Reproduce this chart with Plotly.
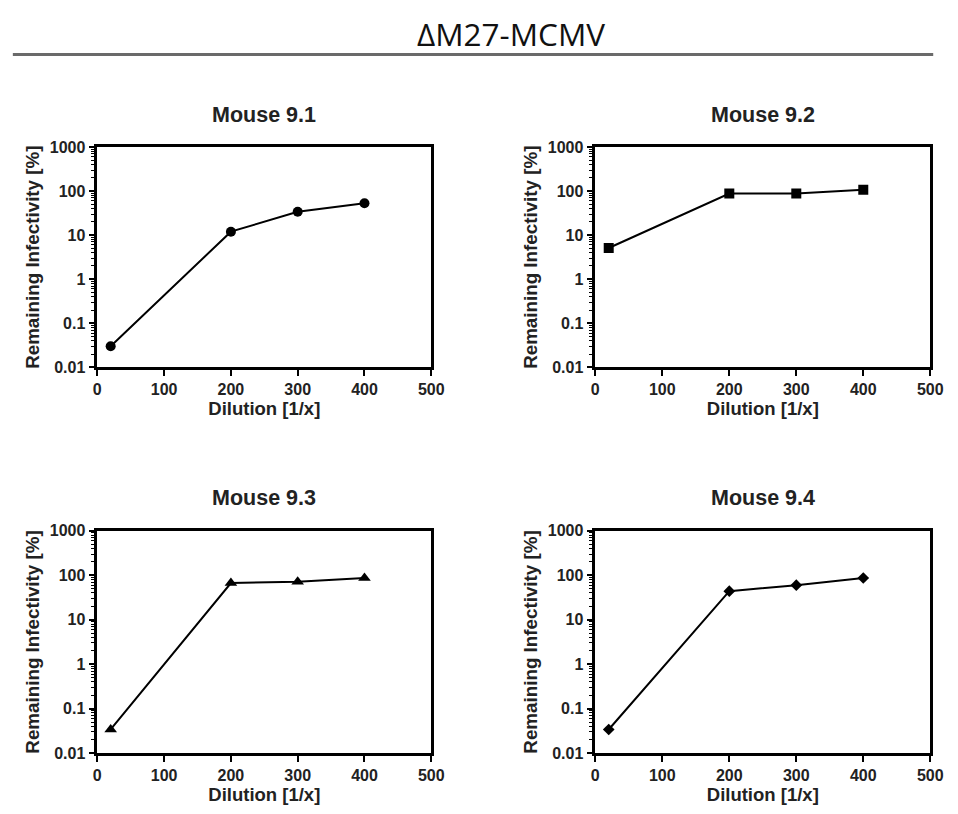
import plotly.graph_objects as go

dilution = [20, 200, 300, 400]
mouse_9_1 = [0.03, 12, 34, 53]
mouse_9_2 = [5.1, 88, 88, 107]
mouse_9_3 = [0.034, 67, 72, 87]
mouse_9_4 = [0.034, 44, 60, 87]

panel_titles = ["Mouse 9.1", "Mouse 9.2", "Mouse 9.3", "Mouse 9.4"]
series = [mouse_9_1, mouse_9_2, mouse_9_3, mouse_9_4]
symbols = ["circle", "square", "triangle-up", "diamond"]
x_ticks = [0, 100, 200, 300, 400, 500]
y_ticks = [0.01, 0.1, 1, 10, 100, 1000]
y_ticklabels = ["0.01", "0.1", "1", "10", "100", "1000"]

W, H = 958, 814


def px(x):
    return x / W


def py(y):
    return 1 - y / H


cols = [(95, 435), (602, 943)]
rows = [(142, 367), (534, 761)]
title_y = [109, 500]
marker_sizes = {"circle": 10, "square": 10, "triangle-up": 11, "diamond": 9}

fig = go.Figure()
font_family = "Liberation Sans, Arial, sans-serif"

for i in range(4):
    r, c = divmod(i, 2)
    ax = "" if i == 0 else str(i + 1)
    fig.add_trace(go.Scatter(
        x=dilution, y=series[i], mode="lines+markers",
        line=dict(color="black", width=2),
        marker=dict(symbol=symbols[i], size=marker_sizes[symbols[i]], color="black"),
        xaxis="x" + ax, yaxis="y" + ax, showlegend=False,
    ))
    x0, x1 = cols[c]
    ytop, ybot = rows[r]
    fig.layout["xaxis" + ax] = dict(
        domain=[px(x0), px(x1)], anchor="y" + ax, range=[0, 500],
        tickvals=x_ticks, ticks="outside", ticklen=6, tickwidth=2, tickcolor="black",
        showline=True, linecolor="black", linewidth=2.5, mirror=True,
        showgrid=False, zeroline=False,
        tickfont=dict(family=font_family, size=16, color="#222", weight="bold"),
        title=dict(text="Dilution [1/x]", standoff=3,
                   font=dict(family=font_family, size=18.5, color="#222", weight="bold")),
    )
    fig.layout["yaxis" + ax] = dict(
        domain=[py(ybot), py(ytop)], anchor="x" + ax, type="log", range=[-2, 3],
        tickvals=y_ticks, ticktext=y_ticklabels,
        ticks="outside", ticklen=6, tickwidth=2, tickcolor="black",
        minor=dict(ticks="outside", ticklen=4, tickwidth=1, tickcolor="black", dtick="D1", showgrid=False),
        showline=True, linecolor="black", linewidth=2.5, mirror=True,
        showgrid=False, zeroline=False,
        tickfont=dict(family=font_family, size=16, color="#222", weight="bold"),
        title=dict(text="Remaining Infectivity [%]", standoff=6,
                   font=dict(family=font_family, size=18.8, color="#222", weight="bold")),
    )
    fig.add_annotation(
        text=panel_titles[i], xref="paper", yref="paper",
        x=px((x0 + x1) / 2), y=py(title_y[r]), xanchor="center", yanchor="middle",
        showarrow=False, font=dict(family=font_family, size=21.5, color="#222", weight="bold"),
    )

fig.add_annotation(
    text="\u0394M27-MCMV", xref="paper", yref="paper", x=px(516), y=py(26),
    xanchor="center", yanchor="middle", showarrow=False,
    font=dict(family="Open Sans, Liberation Sans, sans-serif", size=31.5, color="#111"),
)
fig.add_shape(type="line", xref="paper", yref="paper",
              x0=px(9), x1=px(946), y0=py(47.5), y1=py(47.5),
              line=dict(color="#6a6a6a", width=3))

fig.update_layout(width=W, height=H, margin=dict(l=0, r=0, t=0, b=0),
                  paper_bgcolor="white", plot_bgcolor="white")
fig.write_html(
    "out.html",
    config={"displayModeBar": False},
    post_script="document.body.style.margin='0';document.body.style.overflow='hidden';",
)
